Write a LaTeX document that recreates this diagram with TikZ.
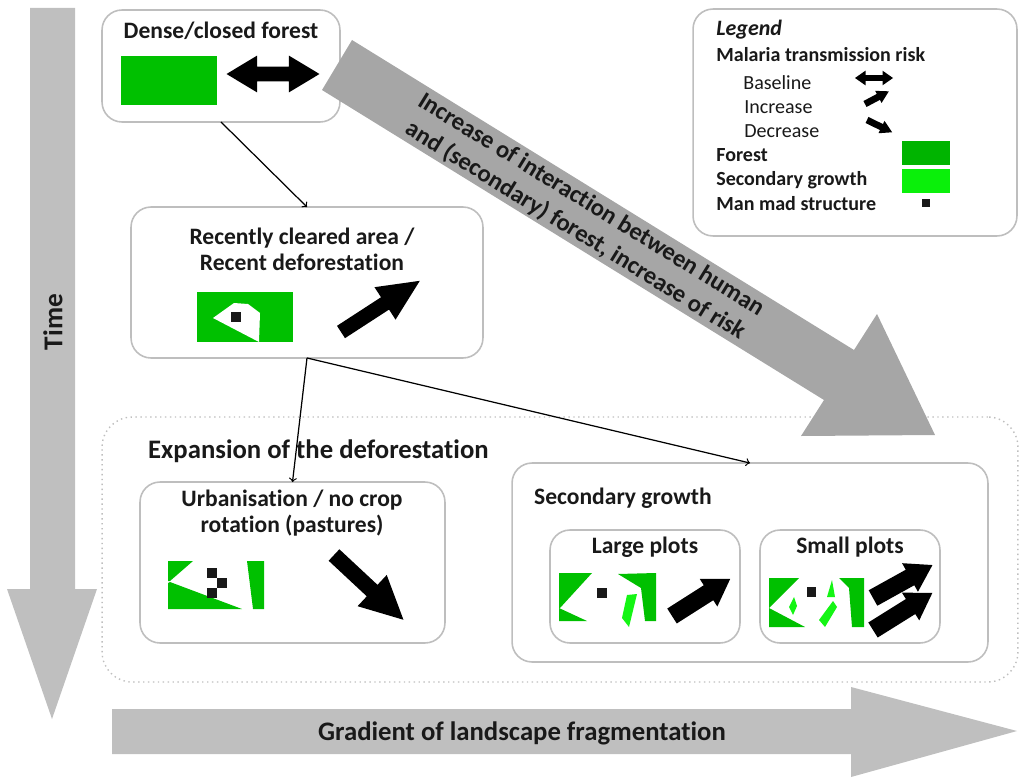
\documentclass[tikz,border=0pt]{standalone}
\usepackage{fontspec}
\setmainfont{Carlito}[Ligatures={NoCommon}]
\usetikzlibrary{positioning}
\usetikzlibrary{calc}
\usetikzlibrary{shapes.arrows}
\definecolor{forest}{RGB}{0,192,0}
\definecolor{growth}{RGB}{20,245,20}
\definecolor{legforest}{RGB}{0,180,0}
\definecolor{leggrowth}{RGB}{10,240,10}
\definecolor{axisgray}{RGB}{191,191,191}
\definecolor{riskgray}{RGB}{166,166,166}
\definecolor{boxline}{RGB}{190,190,190}
\definecolor{inkblack}{RGB}{25,25,25}

\tikzset{
  box/.style={draw=boxline, line width=0.9pt, rounded corners=0.4cm, fill=white, inner sep=0pt, outer sep=0pt},
  boxtitle/.style={font=\fontsize{13.4}{14.8}\selectfont\bfseries, align=center, text=inkblack},
  legtext/.style={font=\fontsize{11.4}{13}\selectfont, anchor=west, inner sep=0pt, text=inkblack},
  risk/.style={single arrow, fill=black, inner xsep=0pt, outer sep=0pt, anchor=tail},
  riskbase/.style={double arrow, fill=black, inner xsep=0pt, outer sep=0pt}
}

\begin{document}
\begin{tikzpicture}[x=0.02cm, y=-0.02cm]
\useasboundingbox (0,0) rectangle (1024,784);

% axes
\fill[axisgray] (30,8) -- (75,8) -- (75,589) -- (97,589) -- (52,719) -- (7,589) -- (30,589) -- cycle;
\node[rotate=90, font=\fontsize{15.5}{18}\selectfont\bfseries, text=inkblack] (time) at (53,322) {Time};
\fill[axisgray] (112,709) -- (851,709) -- (851,687) -- (1017,731) -- (851,777) -- (851,754) -- (112,754) -- cycle;
\node[font=\fontsize{15.2}{18}\selectfont\bfseries, text=inkblack] (gradient) at (522,733) {Gradient of landscape fragmentation};

% expansion region
\node[draw=boxline, dotted, line width=0.8pt, rounded corners=0.6cm, minimum width=18.32cm, minimum height=5.3cm] (expansion) at (560,549.5) {};
\node[anchor=west, font=\fontsize{15.2}{18}\selectfont\bfseries, text=inkblack] (expansiontitle) at (142,451) {Expansion of the deforestation};

% boxes
\node[box, minimum width=4.76cm, minimum height=2.24cm] (dense) at (221,66) {};
\node[box, minimum width=7.04cm, minimum height=3.02cm] (recent) at (307,282.5) {};
\node[box, minimum width=6.1cm, minimum height=3.22cm] (urban) at (292.5,562.5) {};
\node[box, minimum width=9.52cm, minimum height=3.98cm] (secondary) at (750,562.5) {};
\node[box, minimum width=3.8cm, minimum height=2.26cm] (large) at (645,586.5) {};
\node[box, minimum width=3.6cm, minimum height=2.26cm] (small) at (850,586.5) {};
\node[box, minimum width=6.48cm, minimum height=4.54cm] (legend) at (855,122.5) {};

% titles
\node[boxtitle] at (221,31) {Dense/closed forest};
\node[boxtitle] at (302,249) {Recently cleared area /\\Recent deforestation};
\node[boxtitle] at (292,513) {Urbanisation / no crop\\rotation (pastures)};
\node[boxtitle, anchor=west] at (528,498) {Secondary growth};
\node[boxtitle] at (645,547) {Large plots};
\node[boxtitle] at (850,547) {Small plots};

% dense forest
\fill[forest] (121,56) rectangle (217,105);
\node[riskbase, inner ysep=0.14cm, minimum height=1.86cm, double arrow head extend=0.22cm, double arrow tip angle=62] (riskdense) at (273,74) {};

% recent deforestation
\fill[forest] (197,292) rectangle (293,342);
\fill[white] (213,318) -- (234,303) -- (248,304) -- (260,313) -- (259,342) -- cycle;
\fill[inkblack] (231,312) rectangle (241,322);
\node[risk, inner ysep=0.14cm, minimum height=1.88cm, single arrow head extend=0.24cm, single arrow tip angle=50, rotate=33] (riskrecent) at (341,332) {};

% urbanisation
\fill[forest] (168,561) -- (193,561) -- (170,581) -- (168,581) -- cycle;
\fill[forest] (168,583) -- (170,582) -- (242,609) -- (168,609) -- cycle;
\fill[forest] (247,561) -- (264,561) -- (264,609) -- (253,609) -- cycle;
\fill[inkblack] (207,568) rectangle (217,578);
\fill[inkblack] (217,578) rectangle (227,588);
\fill[inkblack] (207,588) rectangle (217,598);
\node[risk, inner ysep=0.15cm, minimum height=1.9cm, single arrow head extend=0.27cm, single arrow tip angle=53, rotate=-43] (riskurban) at (334,555) {};

% large plots
\fill[forest] (559,573) -- (592,573) -- (560,608) -- (559,608) -- cycle;
\fill[forest] (559,608) -- (587,621) -- (559,621) -- cycle;
\fill[forest] (618,574) -- (656,573) -- (656,621) -- (645,621) -- (641,588) -- cycle;
\fill[growth] (627,595) -- (637,594) -- (629,627) -- (622,618) -- cycle;
\fill[inkblack] (597,588) rectangle (607,598);
\node[risk, inner ysep=0.17cm, minimum height=1.38cm, single arrow head extend=0.15cm, single arrow tip angle=65, rotate=32.5] (risklarge) at (672,616) {};

% small plots
\fill[forest] (769,578) -- (799,578) -- (769,608) -- cycle;
\fill[forest] (769,608) -- (805,627) -- (769,627) -- cycle;
\fill[forest] (839,578) -- (864,578) -- (864,627) -- (852,627) -- (849,588) -- cycle;
\fill[growth] (794,597) -- (797,606) -- (793,615) -- (789,607) -- cycle;
\fill[growth] (832,580) -- (835,597) -- (827,597) -- cycle;
\fill[growth] (833,601) -- (837,607) -- (825,627) -- (819,620) -- cycle;
\fill[inkblack] (807,587) rectangle (816,597);
\node[risk, inner ysep=0.17cm, minimum height=1.36cm, single arrow head extend=0.15cm, single arrow tip angle=65, rotate=29] (risksmallup) at (873,598) {};
\node[risk, inner ysep=0.17cm, minimum height=1.4cm, single arrow head extend=0.15cm, single arrow tip angle=65, rotate=32] (risksmalldown) at (873,630) {};

% connectors
\draw[->, line width=0.7pt] (dense.south) -- (recent.north);
\draw[->, line width=0.7pt] (recent.south) -- (urban.north);
\draw[->, line width=0.7pt] (recent.south) -- (secondary.north);

% legend
\node[legtext, font=\fontsize{12.5}{14}\selectfont\bfseries\itshape] at (716,30) {Legend};
\node[legtext, font=\fontsize{11.4}{13}\selectfont\bfseries] at (716,55) {Malaria transmission risk};
\node[legtext] at (743,83) {Baseline};
\node[legtext] at (744,107) {Increase};
\node[legtext] at (744,131) {Decrease};
\node[legtext, font=\fontsize{11.4}{13}\selectfont\bfseries] at (716,155) {Forest};
\node[legtext, font=\fontsize{11.4}{13}\selectfont\bfseries] at (716,180) {Secondary growth};
\node[legtext, font=\fontsize{11.4}{13}\selectfont\bfseries] at (716,204) {Man mad structure};
\node[riskbase, inner ysep=0.05cm, minimum height=0.76cm, double arrow head extend=0.09cm, double arrow tip angle=70] (legbase) at (874,78) {};
\node[risk, inner ysep=0.06cm, minimum height=0.54cm, single arrow head extend=0.07cm, single arrow tip angle=60, rotate=28] (leginc) at (865,104) {};
\node[risk, inner ysep=0.06cm, minimum height=0.56cm, single arrow head extend=0.07cm, single arrow tip angle=60, rotate=-26] (legdec) at (867,120) {};
\fill[legforest] (902,141) rectangle (950,165);
\fill[leggrowth] (902,169) rectangle (950,193);
\fill[inkblack] (922,199) rectangle (930,207);

% interaction arrow
\fill[riskgray] (352,40) -- (854,350) -- (877,314) -- (935,435) -- (801,436) -- (824,400) -- (322,90) -- cycle;
\node[rotate=-31.7, align=center, font=\fontsize{14}{17.2}\selectfont\bfseries, text=inkblack] (interaction) at (583,218) {Increase of interaction between human\\and (secondary) forest, increase of risk};
\end{tikzpicture}
\end{document}
